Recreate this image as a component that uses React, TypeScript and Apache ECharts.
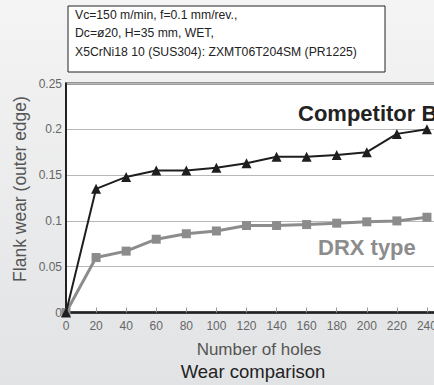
import React, { useEffect, useRef } from "react";
import * as echarts from "echarts";

const holes = [0, 20, 40, 60, 80, 100, 120, 140, 160, 180, 200, 220, 240];
const competitorB = [0, 0.135, 0.148, 0.155, 0.155, 0.158, 0.163, 0.17, 0.17, 0.172, 0.175, 0.195, 0.2];
const drxType = [0, 0.06, 0.067, 0.08, 0.086, 0.089, 0.095, 0.095, 0.096, 0.0975, 0.099, 0.1, 0.104];
const conditionLines = [
  "Vc=150 m/min, f=0.1 mm/rev.,",
  "Dc=ø20, H=35 mm, WET,",
  "X5CrNi18 10 (SUS304): ZXMT06T204SM (PR1225)",
];

const FONT = "'Liberation Sans', Arial, Helvetica, sans-serif";

export default function App() {
  const ref = useRef<HTMLDivElement>(null);
  useEffect(() => {
    if (!ref.current) return;
    const chart = echarts.init(ref.current, undefined, { renderer: "svg" });
    chart.setOption({
      animation: false,
      backgroundColor: new echarts.graphic.LinearGradient(0, 0, 0, 1, [
        { offset: 0, color: "#f4f4f4" },
        { offset: 1, color: "#e2e3e5" },
      ]),
      textStyle: { fontFamily: FONT },
      grid: {
        left: 66,
        top: 83.5,
        right: 18,
        bottom: 72.5,
        show: true,
        backgroundColor: "#ffffff",
        borderColor: "#3a3a3a",
        borderWidth: 2,
      },
      xAxis: {
        type: "value",
        min: 0,
        max: 250,
        interval: 20,
        axisLine: { show: true, lineStyle: { color: "#222", width: 2.5 } },
        axisTick: { show: true, inside: true, length: 5, lineStyle: { color: "#999" } },
        axisLabel: { color: "#666", fontSize: 12, margin: 7, showMaxLabel: false, fontFamily: FONT },
        splitLine: { show: false },
      },
      yAxis: {
        type: "value",
        min: 0,
        max: 0.25,
        interval: 0.05,
        axisLine: { show: true, lineStyle: { color: "#222", width: 2 } },
        axisTick: { show: false },
        axisLabel: { color: "#666", fontSize: 12, margin: 4, fontFamily: FONT },
        splitLine: { show: true, lineStyle: { color: "#b8b8b8", width: 1 } },
      },
      series: [
        {
          name: "DRX type",
          type: "line",
          data: holes.map((h, i) => [h, drxType[i]]),
          symbol: "rect",
          symbolSize: 9,
          lineStyle: { color: "#8c8c8c", width: 3 },
          itemStyle: { color: "#8c8c8c" },
          z: 2,
        },
        {
          name: "Competitor B",
          type: "line",
          data: holes.map((h, i) => [h, competitorB[i]]),
          symbol: "triangle",
          symbolSize: 10,
          lineStyle: { color: "#1e1e1e", width: 2 },
          itemStyle: { color: "#1e1e1e" },
          z: 3,
        },
      ],
      graphic: [
        {
          type: "rect",
          shape: { x: 68, y: 6, width: 317, height: 66 },
          style: { fill: "#ffffff", stroke: "#222", lineWidth: 1 },
        },
        ...conditionLines.map((t, i) => ({
          type: "text",
          x: 75,
          y: [15, 33, 52][i],
          style: {
            text: t,
            fill: "#222",
            fontSize: 12.2,
            fontFamily: FONT,
            verticalAlign: "middle",
          },
        })),
        {
          type: "text",
          x: 298,
          y: 113,
          z: 10,
          style: { text: "Competitor B", fill: "#222", fontSize: 22, fontWeight: "bold", fontFamily: FONT, verticalAlign: "middle" },
        },
        {
          type: "text",
          x: 318,
          y: 247,
          z: 10,
          style: { text: "DRX type", fill: "#8c8c8c", fontSize: 22, fontWeight: "bold", fontFamily: FONT, verticalAlign: "middle" },
        },
        {
          type: "text",
          x: 20,
          y: 189,
          rotation: Math.PI / 2,
          style: { text: "Flank wear (outer edge)", fill: "#555", fontSize: 17.5, fontFamily: FONT, align: "center", verticalAlign: "middle" },
        },
        {
          type: "text",
          x: 259,
          y: 349,
          style: { text: "Number of holes", fill: "#555", fontSize: 17, fontFamily: FONT, align: "center", verticalAlign: "middle" },
        },
        {
          type: "text",
          x: 253,
          y: 371,
          style: { text: "Wear comparison", fill: "#222", fontSize: 18.5, fontFamily: FONT, align: "center", verticalAlign: "middle" },
        },
      ],
    });
    return () => chart.dispose();
  }, []);
  return (
    <div style={{ position: "fixed", left: 0, top: 0, width: 434, height: 385, overflow: "hidden" }}>
      <div ref={ref} style={{ width: 460, height: 385 }} />
    </div>
  );
}
